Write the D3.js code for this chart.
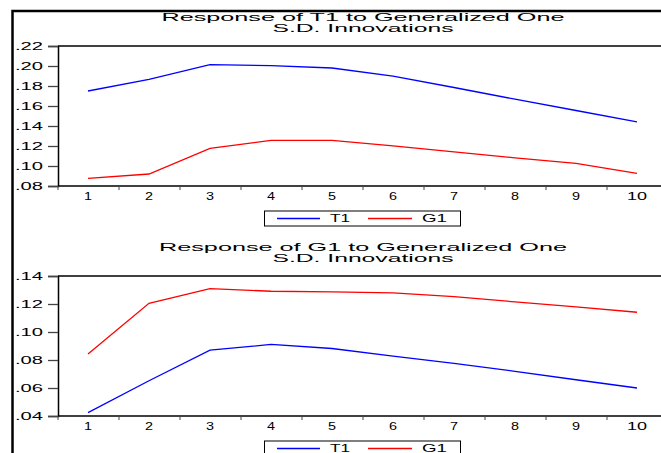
<!DOCTYPE html>
<html>
<head>
<meta charset="utf-8">
<script src="https://cdn.jsdelivr.net/npm/d3@7"></script>
<style>
html,body{margin:0;padding:0;background:#fff;overflow:hidden;}
text{font-family:"Liberation Sans",Arial,sans-serif;fill:#000;}
</style>
</head>
<body>
<svg id="chart" width="661" height="453"></svg>
<script>
const categories = [1,2,3,4,5,6,7,8,9,10];
const seriesNames = ["T1","G1"];
const colors = ["#0000ff","#ff0000"];

const titleTop = ["Response of T1 to Generalized One","S.D. Innovations"];
const titleBottom = ["Response of G1 to Generalized One","S.D. Innovations"];

const topT1 = [0.175,0.1867,0.2014,0.2004,0.198,0.1898,0.1785,0.1668,0.1555,0.1442];
const topG1 = [0.0877,0.092,0.1176,0.1256,0.1256,0.1202,0.1142,0.1082,0.1026,0.0926];
const botT1 = [0.0424,0.0652,0.087,0.0911,0.0882,0.0828,0.0776,0.0719,0.0659,0.060];
const botG1 = [0.0842,0.1205,0.131,0.1291,0.1286,0.1279,0.1253,0.1215,0.1179,0.1141];

const topTicks = [0.08,0.10,0.12,0.14,0.16,0.18,0.20,0.22];
const botTicks = [0.04,0.06,0.08,0.10,0.12,0.14];

const svg = d3.select("#chart");
// outer frame
svg.append("rect").attr("x",12.5).attr("y",11).attr("width",700).attr("height",500)
  .attr("fill","none").attr("stroke","#000").attr("stroke-width",2.5);

const fmt = v => d3.format(".2f")(v).replace(/^0/,"");

function panel(oy, title, titleWidths, s1, s2, ticks){
  const top = oy + 46, bottom = oy + 186, left = 58;
  const x = d3.scaleBand().domain(categories).range([57.5, 667.5]);
  const y = d3.scaleLinear().domain([ticks[0], ticks[ticks.length-1]]).range([bottom, top]);
  const g = svg.append("g");
  // titles
  title.forEach((t,i)=>{
    g.append("text").attr("x",363).attr("y",oy+20.7+i*11.6)
      .attr("text-anchor","middle").attr("font-size",11)
      .attr("textLength",titleWidths[i]).attr("lengthAdjust","spacingAndGlyphs").text(t);
  });
  // plot frame top
  g.append("line").attr("x1",left).attr("x2",661).attr("y1",top).attr("y2",top)
    .attr("stroke","#000").attr("stroke-width",1.3);
  // y axis
  const ya = d3.axisLeft(y).tickValues(ticks).tickSize(10).tickFormat(fmt);
  const yg = g.append("g").attr("transform",`translate(${left},0)`).call(ya);
  yg.select(".domain").attr("stroke","#000").attr("stroke-width",1.5);
  yg.selectAll(".tick line").attr("stroke","#444").attr("stroke-width",1.3);
  yg.selectAll(".tick text").attr("font-size",10).attr("x",-15).attr("dy","0.35em")
    .attr("font-family","Liberation Sans, Arial, sans-serif")
    .attr("textLength",28).attr("lengthAdjust","spacingAndGlyphs");
  // x axis line
  g.append("line").attr("x1",left).attr("x2",661).attr("y1",bottom).attr("y2",bottom)
    .attr("stroke","#000").attr("stroke-width",1.5);
  // x ticks at band boundaries
  g.selectAll(".xt").data(categories).enter().append("line")
    .attr("x1",d=>x(d)+0.5).attr("x2",d=>x(d)+0.5).attr("y1",bottom).attr("y2",bottom+4)
    .attr("stroke","#444").attr("stroke-width",1);
  g.selectAll(".xl").data(categories).enter().append("text")
    .attr("x",d=>x(d)+x.bandwidth()/2).attr("y",bottom+10).attr("dy","0.35em")
    .attr("text-anchor","middle").attr("font-size",10)
    .attr("textLength",d=>String(d).length>1?20:8).attr("lengthAdjust","spacingAndGlyphs")
    .text(d=>d);
  // lines
  const line = d3.line().x((d,i)=>x(categories[i])+x.bandwidth()/2).y(d=>y(d));
  [s1,s2].forEach((s,k)=>{
    g.append("path").datum(s).attr("d",line).attr("fill","none")
      .attr("stroke",colors[k]).attr("stroke-width",1.3);
  });
  // legend
  const ly = oy + 218.5;
  g.append("rect").attr("x",264.5).attr("y",oy+211).attr("width",196).attr("height",15)
    .attr("fill","#fff").attr("stroke","#000").attr("stroke-width",1);
  const lx = [[277,320,330],[368,412,422]];
  seriesNames.forEach((n,k)=>{
    g.append("line").attr("x1",lx[k][0]).attr("x2",lx[k][1]).attr("y1",ly).attr("y2",ly)
      .attr("stroke",colors[k]).attr("stroke-width",1.3);
    g.append("text").attr("x",lx[k][2]).attr("y",ly).attr("dy","0.35em").attr("font-size",10)
      .attr("textLength",k?25:20).attr("lengthAdjust","spacingAndGlyphs").text(n);
  });
}

panel(0, titleTop, [403,181], topT1, topG1, topTicks);
panel(230, titleBottom, [408,181], botT1, botG1, botTicks);
</script>
</body>
</html>
